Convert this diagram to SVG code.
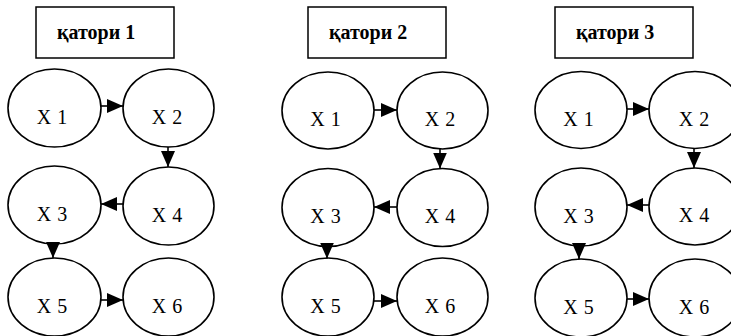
<svg xmlns="http://www.w3.org/2000/svg" width="731" height="336" viewBox="0 0 731 336">
<style>
.box{fill:#fff;stroke:#000;stroke-width:1.5}
.title{font-family:"Liberation Serif","Times New Roman",serif;font-weight:bold;font-size:20px;fill:#000}
.node ellipse{fill:#fff;stroke:#000;stroke-width:1.6}
.node text{font-family:"Liberation Serif","Times New Roman",serif;font-size:20px;word-spacing:1px;fill:#000;text-anchor:middle}
.edge{stroke:#000;stroke-width:1.6;fill:none;marker-end:url(#ah)}
</style>
<defs>
<marker id="ah" markerUnits="userSpaceOnUse" markerWidth="16" markerHeight="14" refX="16" refY="7" orient="auto">
<path d="M0,0 L16,7 L0,14 Z" fill="#000"/>
</marker>
</defs>
<rect width="731" height="336" fill="#fff"/>

<g id="title1"><rect class="box" x="36" y="7" width="138" height="51"/><text class="title" x="57" y="39">қатори 1</text></g>
<g id="title2"><rect class="box" x="308" y="7" width="138" height="51"/><text class="title" x="329" y="39">қатори 2</text></g>
<g id="title3"><rect class="box" x="555" y="7" width="138" height="51"/><text class="title" x="576" y="39">қатори 3</text></g>

<g id="g1x1" class="node"><ellipse cx="54.5" cy="108" rx="46.5" ry="39"/><text x="52" y="124">X 1</text></g>
<g id="g1x2" class="node"><ellipse cx="168.5" cy="108" rx="45.5" ry="39"/><text x="167" y="124">X 2</text></g>
<g id="g1x3" class="node"><ellipse cx="54.5" cy="205" rx="46.5" ry="39"/><text x="52" y="221">X 3</text></g>
<g id="g1x4" class="node"><ellipse cx="168.5" cy="206" rx="45.5" ry="39"/><text x="167" y="222">X 4</text></g>
<g id="g1x5" class="node"><ellipse cx="54.5" cy="297" rx="46.5" ry="39"/><text x="52" y="313">X 5</text></g>
<g id="g1x6" class="node"><ellipse cx="168.5" cy="297" rx="45.5" ry="39"/><text x="167" y="313">X 6</text></g>

<g id="g2x1" class="node"><ellipse cx="328" cy="110.5" rx="46" ry="38.5"/><text x="325.5" y="126">X 1</text></g>
<g id="g2x2" class="node"><ellipse cx="442.5" cy="110.5" rx="45.5" ry="38.5"/><text x="440" y="126">X 2</text></g>
<g id="g2x3" class="node"><ellipse cx="328" cy="207.5" rx="46" ry="39"/><text x="325.5" y="223">X 3</text></g>
<g id="g2x4" class="node"><ellipse cx="442.5" cy="207.5" rx="45.5" ry="39"/><text x="440" y="223">X 4</text></g>
<g id="g2x5" class="node"><ellipse cx="328" cy="297" rx="46" ry="39"/><text x="325.5" y="313">X 5</text></g>
<g id="g2x6" class="node"><ellipse cx="442.5" cy="297" rx="45.5" ry="39"/><text x="440" y="313">X 6</text></g>

<g id="g3x1" class="node"><ellipse cx="581" cy="110" rx="46" ry="38.5"/><text x="578.5" y="126">X 1</text></g>
<g id="g3x2" class="node"><ellipse cx="695" cy="110" rx="46" ry="38.5"/><text x="694" y="126">X 2</text></g>
<g id="g3x3" class="node"><ellipse cx="581" cy="207" rx="46" ry="39"/><text x="578.5" y="223">X 3</text></g>
<g id="g3x4" class="node"><ellipse cx="695" cy="206.5" rx="46" ry="38.5"/><text x="694" y="222">X 4</text></g>
<g id="g3x5" class="node"><ellipse cx="581" cy="298" rx="46" ry="39"/><text x="578.5" y="314">X 5</text></g>
<g id="g3x6" class="node"><ellipse cx="695" cy="298" rx="46" ry="39"/><text x="694" y="314">X 6</text></g>

<g id="connectors">
<line class="edge" x1="101" y1="106" x2="123" y2="106"/>
<line class="edge" x1="168" y1="147" x2="168" y2="167"/>
<line class="edge" x1="123" y1="204" x2="101" y2="204"/>
<line class="edge" x1="53" y1="243" x2="53" y2="258"/>
<line class="edge" x1="101" y1="300" x2="123" y2="300"/>

<line class="edge" x1="374" y1="110" x2="397" y2="110"/>
<line class="edge" x1="440" y1="149" x2="440" y2="168.5"/>
<line class="edge" x1="397" y1="207" x2="374" y2="207"/>
<line class="edge" x1="327" y1="246" x2="327" y2="258.5"/>
<line class="edge" x1="374" y1="301" x2="397" y2="301"/>

<line class="edge" x1="627" y1="109" x2="649" y2="109"/>
<line class="edge" x1="694" y1="148" x2="694" y2="168"/>
<line class="edge" x1="649" y1="205" x2="627" y2="205"/>
<line class="edge" x1="579" y1="245" x2="579" y2="259"/>
<line class="edge" x1="627" y1="299" x2="649" y2="299"/>
</g>
</svg>
